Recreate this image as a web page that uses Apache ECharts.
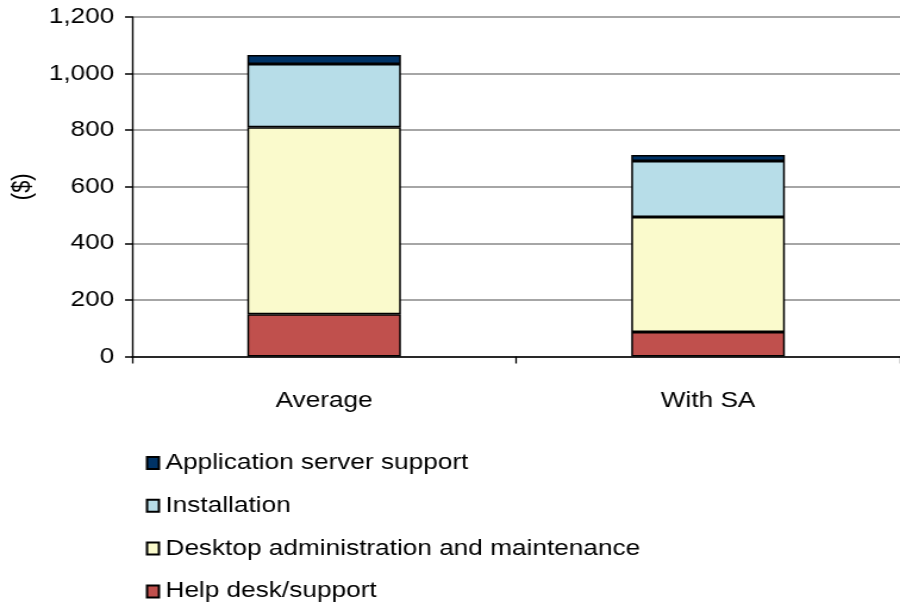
<!DOCTYPE html>
<html>
<head>
<meta charset="utf-8">
<script src="https://cdn.jsdelivr.net/npm/echarts@6/dist/echarts.min.js"></script>
<style>
html,body{margin:0;padding:0;background:#fff;overflow:hidden;width:900px;height:606px;}
#c{width:756px;height:606px;transform:scaleX(1.1905);transform-origin:0 0;}
</style>
</head>
<body>
<div id="c"></div>
<script>
const categories = ['Average', 'With SA'];
const helpDesk = [149, 87];
const desktopAdmin = [661, 406];
const installation = [224, 198];
const appServer = [32, 21];
const yTicks = [0, 200, 400, 600, 800, 1000, 1200];
const seriesNames = ['Help desk/support', 'Desktop administration and maintenance', 'Installation', 'Application server support'];
const seriesColors = ['#c0504d', '#fafacc', '#b7dde8', '#003366'];
const seriesData = [helpDesk, desktopAdmin, installation, appServer];

const font = '"Liberation Sans", Arial, sans-serif';
const chart = echarts.init(document.getElementById('c'));
chart.setOption({
  animation: false,
  grid: { left: 106.7, top: 17, width: 660.5, height: 339.5, containLabel: false },
  legend: {
    orient: 'vertical',
    left: 122.5,
    top: 452,
    padding: 0,
    itemWidth: 10,
    itemHeight: 12,
    itemGap: 20.8,
    data: seriesNames.slice().reverse(),
    textStyle: { fontFamily: font, fontSize: 22, color: '#000', padding: [0, 0, 0, 0.5] },
    icon: 'rect'
  },
  xAxis: {
    type: 'category',
    data: categories,
    axisLine: { lineStyle: { color: '#000', width: 1.5 } },
    axisTick: { show: true, length: 7, lineStyle: { color: '#000', width: 1.3 } },
    axisLabel: { fontFamily: font, fontSize: 22, color: '#000', margin: 33 }
  },
  yAxis: {
    type: 'value',
    min: 0, max: 1200, interval: 200,
    name: '($)',
    nameLocation: 'middle',
    nameRotate: 90,
    nameGap: 81,
    nameTextStyle: { fontFamily: font, fontSize: 22, color: '#000' },
    axisLine: { show: true, lineStyle: { color: '#000', width: 1.4 } },
    axisTick: { show: true, length: 6, lineStyle: { color: '#000', width: 1.5 } },
    splitLine: { lineStyle: { color: '#888', width: 1.5 } },
    axisLabel: {
      fontFamily: font, fontSize: 22, color: '#000', margin: 15,
      formatter: v => yTicks.includes(v) ? v.toLocaleString('en-US') : ''
    }
  },
  series: seriesNames.map((n, i) => ({
    name: n,
    type: 'bar',
    stack: 'total',
    barWidth: '40%',
    data: seriesData[i],
    itemStyle: { color: seriesColors[i], borderColor: '#000', borderWidth: 1.5 }
  }))
});
</script>
</body>
</html>
